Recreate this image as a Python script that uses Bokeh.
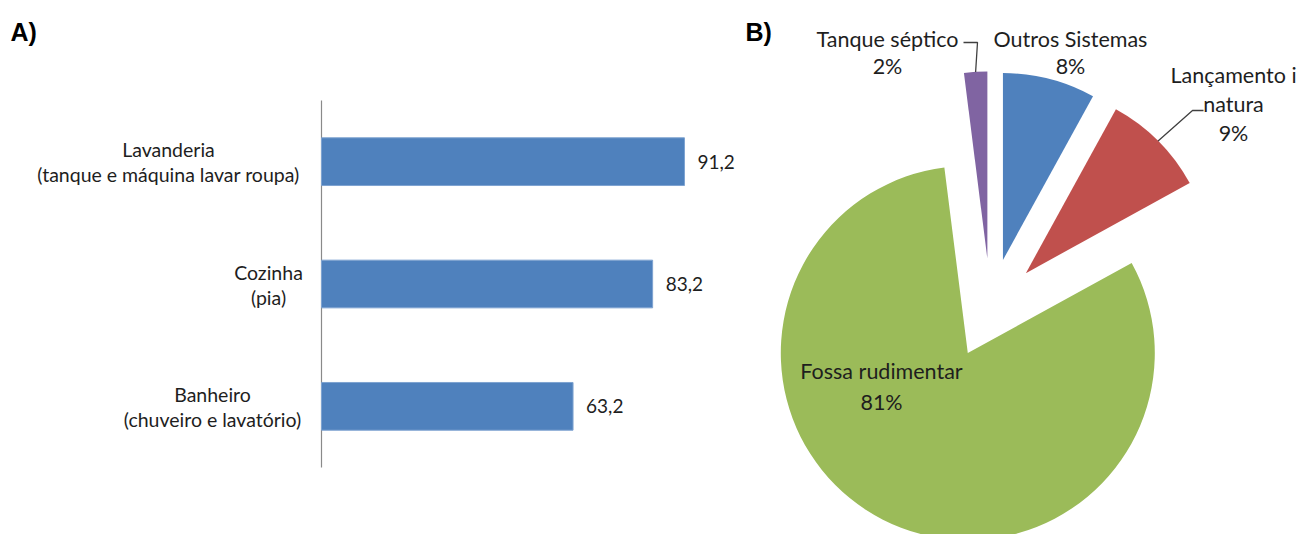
import math
from bokeh.plotting import figure
from bokeh.models import Range1d
from bokeh.core.properties import value
from bokeh.embed import file_html
from bokeh.resources import INLINE

# ---------------- data ----------------
bar_categories = [
    "Lavanderia\n(tanque e máquina lavar roupa)",
    "Cozinha\n(pia)",
    "Banheiro\n(chuveiro e lavatório)",
]
bar_values = [91.2, 83.2, 63.2]

pie_names = ["Outros Sistemas", "Lançamento in natura", "Fossa rudimentar", "Tanque séptico"]
pie_values = [8, 9, 81, 2]
pie_name_lines = [["Outros Sistemas"], ["Lançamento i", "natura"], ["Fossa rudimentar"], ["Tanque séptico"]]

# ---------------- style / layout ----------------
FONT = "Lato"
TXT = "#1e1e1e"
BAR_COLOR = "#4F81BD"
PIE_COLORS = ["#4F81BD", "#C0504D", "#9BBB59", "#8064A2"]
W, H = 1311, 534

def Y(py):  # page pixel row -> data y (page coordinates, y up)
    return H - py

p = figure(
    width=W, height=H,
    x_range=Range1d(0, W), y_range=Range1d(0, H),
    x_axis_location=None, y_axis_location=None,
    toolbar_location=None, output_backend="svg", min_border=0,
)
p.outline_line_color = None
p.grid.visible = False

# ---------------- panel A: bars ----------------
AXIS_X, BLOCK_TOP, BLOCK_BOTTOM = 321, 100, 467
PX_PER_UNIT = 3.98
n = len(bar_categories)
BAND = (BLOCK_BOTTOM - BLOCK_TOP) / n
p.extra_x_ranges = {"val": Range1d(-AXIS_X / PX_PER_UNIT, (W - AXIS_X) / PX_PER_UNIT)}
p.extra_y_ranges = {"cat": Range1d(-(H - BLOCK_BOTTOM) / BAND, BLOCK_BOTTOM / BAND)}
cat_pos = [n - 0.5 - i for i in range(n)]  # first category on top

p.segment(x0=0, y0=0, x1=0, y1=n, x_range_name="val", y_range_name="cat",
          line_color="#8a8a8a", line_width=1.2)
p.hbar(y=cat_pos, left=0, right=bar_values, height=0.39,
       x_range_name="val", y_range_name="cat",
       fill_color=BAR_COLOR, line_color="#7EA3D1", line_width=1)
p.text(x=bar_values, y=cat_pos,
       text=[f"{v:.1f}".replace(".", ",") for v in bar_values],
       x_range_name="val", y_range_name="cat",
       x_offset=13, text_align="left", text_baseline="middle",
       text_font=value(FONT), text_font_size="19px", text_color=TXT)

# category labels: two centred lines per category (block centres in page px)
label_centres = [168, 268, 212]
first = [c.split("\n")[0] for c in bar_categories]
second = [c.split("\n")[1] for c in bar_categories]
for lines, dy in ((first, -12), (second, 13)):
    p.text(x=label_centres, y=cat_pos, text=lines, y_range_name="cat",
           y_offset=dy, text_align="center", text_baseline="alphabetic",
           text_font=value(FONT), text_font_size="19.5px", text_color=TXT)

# ---------------- panel B: exploded pie ----------------
CX, CY, R, EXPL = 990, Y(308), 187, 50
total = sum(pie_values)
cum = 0.0
wx, wy, ws, we, mids, centres = [], [], [], [], [], []
for v in pie_values:
    c0 = cum / total * 2 * math.pi          # clockwise from 12 o'clock
    c1 = (cum + v) / total * 2 * math.pi
    cm = (c0 + c1) / 2
    cx = CX + EXPL * math.sin(cm)
    cy = CY + EXPL * math.cos(cm)
    wx.append(cx); wy.append(cy)
    ws.append(math.pi / 2 - c1); we.append(math.pi / 2 - c0)
    mids.append(cm); centres.append((cx, cy))
    cum += v
p.wedge(x=wx, y=wy, radius=R, start_angle=ws, end_angle=we,
        fill_color=PIE_COLORS, line_color=None)

def arc_point(i):
    cx, cy = centres[i]
    return cx + R * math.sin(mids[i]), cy + R * math.cos(mids[i])

# leader lines
tx_, ty_ = arc_point(3)
p.line([963, 977, tx_], [Y(42), Y(42), ty_], line_color="#404040", line_width=1.3)
lx_, ly_ = arc_point(1)
p.line([1203, 1192, lx_], [Y(110), Y(110), ly_], line_color="#404040", line_width=1.3)

# pie labels: (centre x, first baseline, line spacing) in page px
label_layout = [(1070, 38, 27), (1233, 74, 29), (881, 370, 31), (887, 38, 27)]
tx, ty, tt = [], [], []
for lines, v, (lx, lb, ls) in zip(pie_name_lines, pie_values, label_layout):
    for k, s in enumerate(lines + [f"{v}%"]):
        tx.append(lx); ty.append(Y(lb + k * ls)); tt.append(s)
p.text(x=tx, y=ty, text=tt, text_align="center", text_baseline="alphabetic",
       text_font=value(FONT), text_font_size="21.5px", text_color=TXT)

# panel letters
p.text(x=[10, 745], y=[Y(31), Y(31)], text=["A)", "B)"],
       text_align="left", text_baseline="alphabetic",
       text_font=value("Liberation Sans"), text_font_style="bold",
       text_font_size="25px", text_color="#000000")

open("out.html", "w").write(file_html(p, INLINE))
